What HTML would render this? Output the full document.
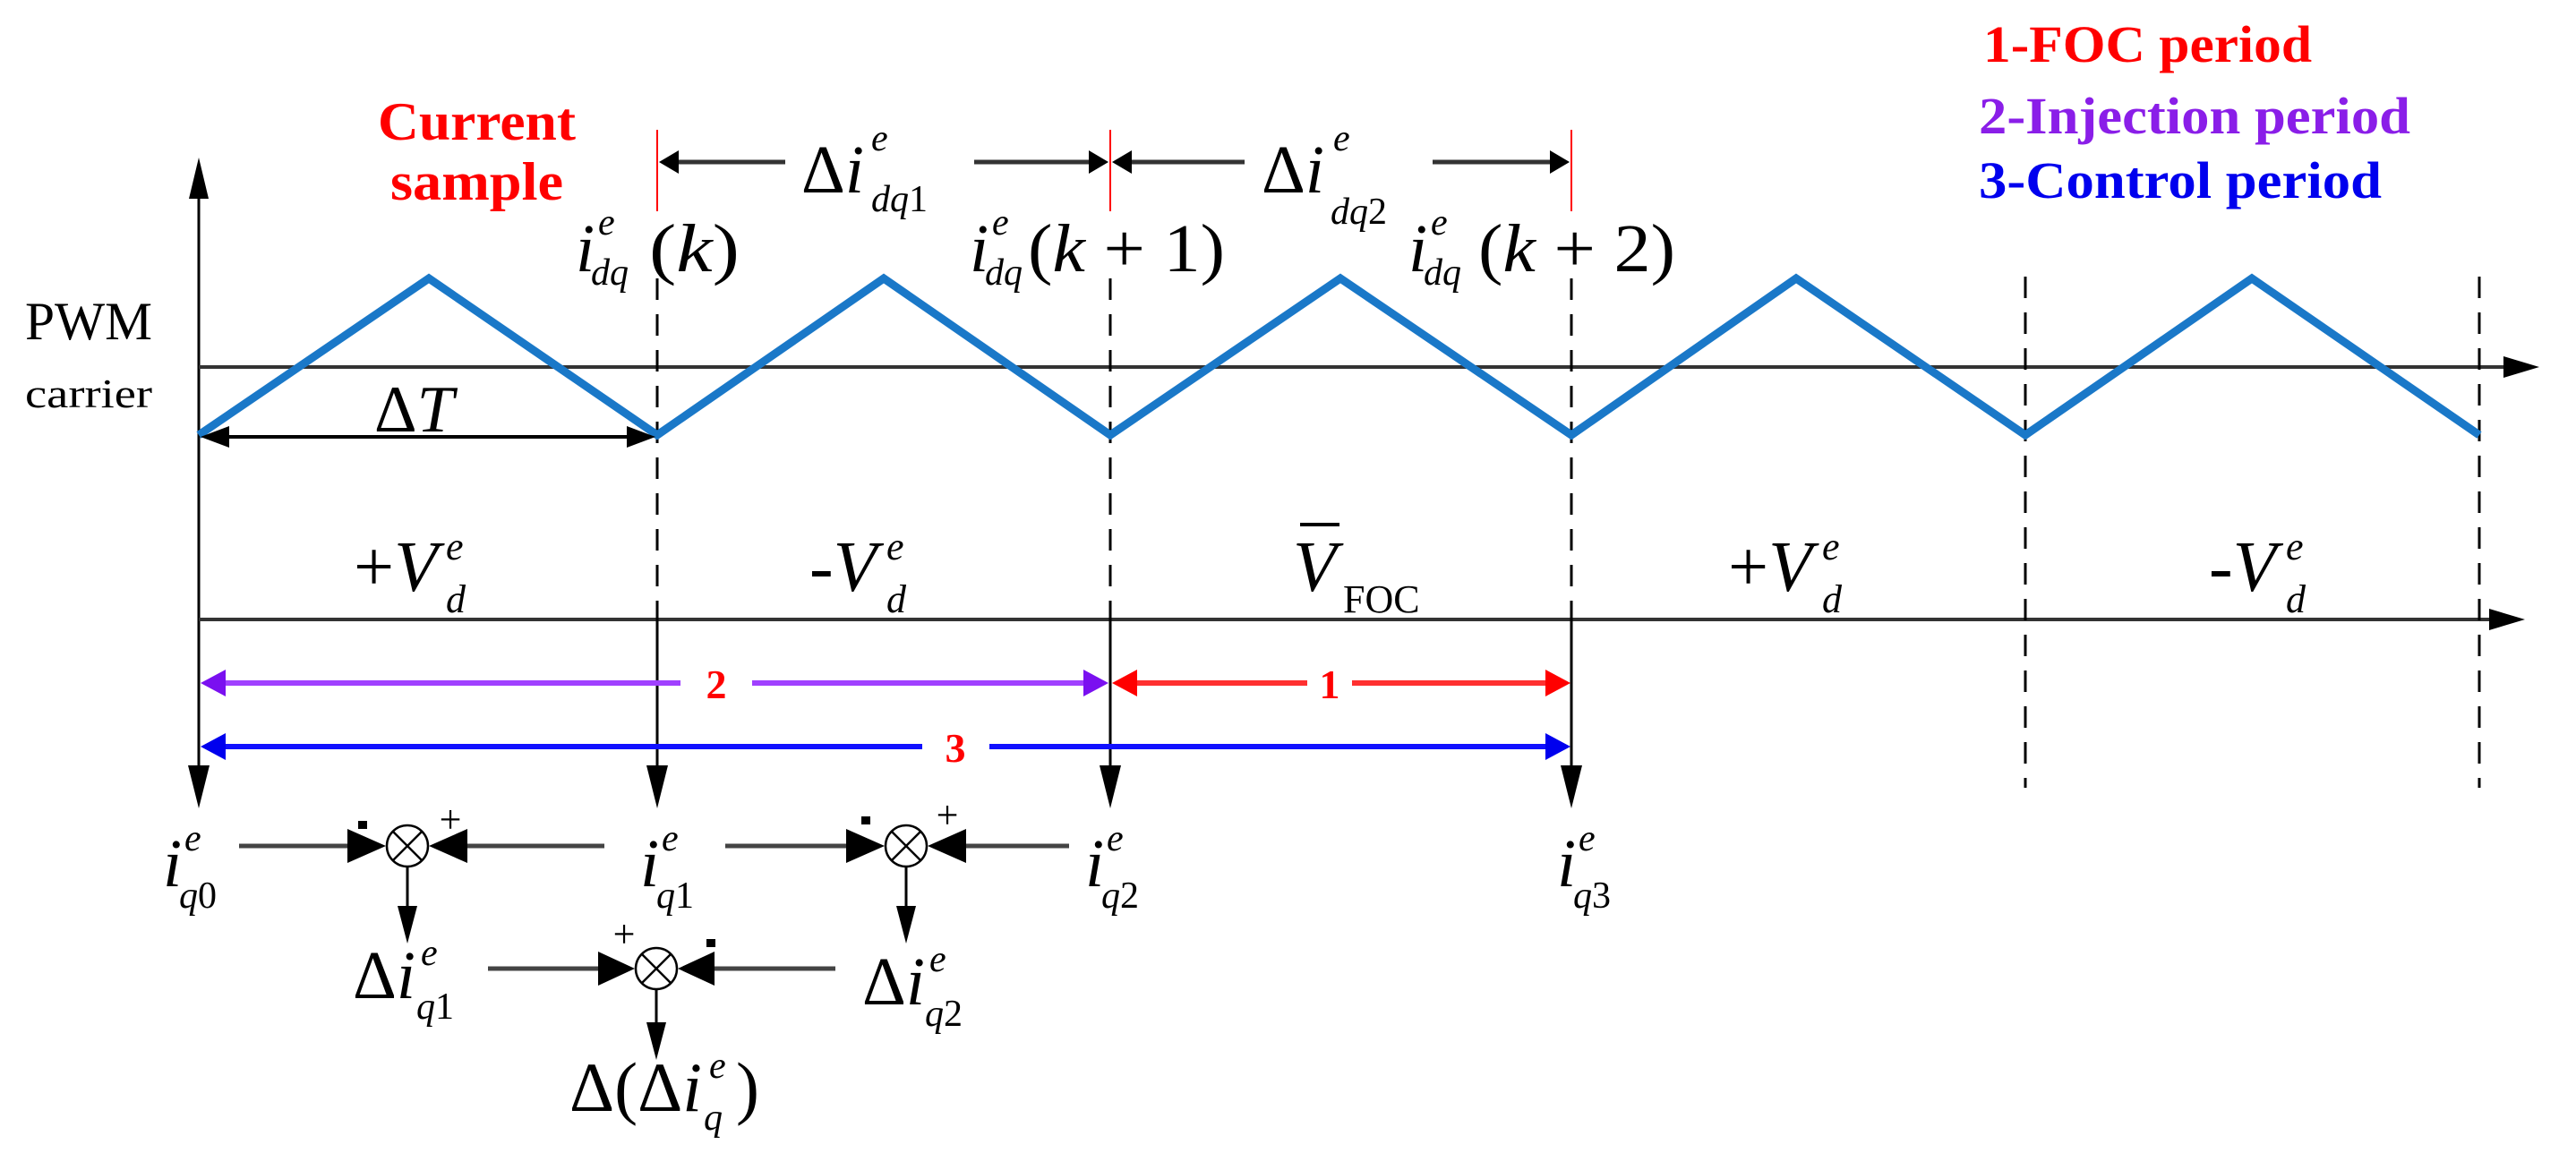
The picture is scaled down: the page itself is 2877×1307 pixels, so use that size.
<!DOCTYPE html>
<html><head><meta charset="utf-8"><style>
html,body{margin:0;padding:0;background:#fff;}
svg{display:block;}
text{font-family:"Liberation Serif",serif;}
.m{font-style:italic;font-family:"Liberation Serif","DejaVu Serif",serif;}
</style></head><body>
<svg width="2877" height="1307" viewBox="0 0 2877 1307" xmlns="http://www.w3.org/2000/svg">
<rect width="2877" height="1307" fill="#fff"/>

<!-- y axis -->
<line x1="222" y1="200" x2="222" y2="880" stroke="#000" stroke-width="3"/>
<polygon points="222,176 211,222 233,222" fill="#000"/>
<!-- carrier axis -->
<line x1="222" y1="410" x2="2800" y2="410" stroke="#333" stroke-width="4"/>
<polygon points="2836,410 2796,398 2796,422" fill="#000"/>
<!-- second axis -->
<line x1="222" y1="692" x2="2790" y2="692" stroke="#333" stroke-width="4"/>
<polygon points="2820,692 2780,680 2780,704" fill="#000"/>

<!-- dashed verticals -->
<g stroke="#000" stroke-width="3" stroke-dasharray="24,16">
<line x1="734" y1="311" x2="734" y2="692"/>
<line x1="1240" y1="311" x2="1240" y2="692"/>
<line x1="1755" y1="311" x2="1755" y2="692"/>
<line x1="2262" y1="309" x2="2262" y2="880"/>
<line x1="2769" y1="309" x2="2769" y2="880"/>
</g>
<g stroke="#000" stroke-width="3">
<line x1="734" y1="692" x2="734" y2="870"/>
<line x1="1240" y1="692" x2="1240" y2="870"/>
<line x1="1755" y1="692" x2="1755" y2="870"/>
</g>
<g fill="#000">
<polygon points="222,903 210,855 234,855"/>
<polygon points="734,903 722,855 746,855"/>
<polygon points="1240,903 1228,855 1252,855"/>
<polygon points="1755,903 1743,855 1767,855"/>
</g>

<!-- carrier -->
<polyline points="222,486 479,311 734,486 987,311 1240,486 1497,311 1755,486 2006,311 2262,486 2515,311 2769,486" fill="none" stroke="#1a78c8" stroke-width="9"/>

<!-- delta T arrow -->
<line x1="240" y1="488" x2="716" y2="488" stroke="#000" stroke-width="4"/>
<polygon points="224,488 256,476 256,500" fill="#000"/>
<polygon points="732,488 700,476 700,500" fill="#000"/>
<text x="418" y="482" font-size="74">Δ<tspan class="m">T</tspan></text>

<!-- PWM carrier -->
<text x="28" y="379" font-size="60" textLength="142" lengthAdjust="spacingAndGlyphs">PWM</text>
<text x="28" y="455" font-size="46" textLength="142" lengthAdjust="spacingAndGlyphs">carrier</text>

<!-- Current sample -->
<text x="422" y="156" font-size="60" font-weight="bold" fill="#f00" textLength="221" lengthAdjust="spacingAndGlyphs">Current</text>
<text x="436" y="223" font-size="60" font-weight="bold" fill="#f00" textLength="193" lengthAdjust="spacingAndGlyphs">sample</text>

<!-- Legend -->
<text x="2215" y="69" font-size="58" font-weight="bold" fill="#f00" textLength="367" lengthAdjust="spacingAndGlyphs">1-FOC period</text>
<text x="2210" y="149" font-size="58" font-weight="bold" fill="#8a1ee8" textLength="482" lengthAdjust="spacingAndGlyphs">2-Injection period</text>
<text x="2210" y="221" font-size="58" font-weight="bold" fill="#0000ee" textLength="450" lengthAdjust="spacingAndGlyphs">3-Control period</text>

<!-- red ticks -->
<g stroke="#f00" stroke-width="2">
<line x1="734" y1="145" x2="734" y2="236"/>
<line x1="1240" y1="145" x2="1240" y2="236"/>
<line x1="1755" y1="145" x2="1755" y2="236"/>
</g>
<g stroke="#333" stroke-width="5">
<line x1="750" y1="181" x2="877" y2="181"/>
<line x1="1088" y1="181" x2="1222" y2="181"/>
<line x1="1258" y1="181" x2="1390" y2="181"/>
<line x1="1600" y1="181" x2="1738" y2="181"/>
</g>
<g fill="#000">
<polygon points="736,181 758,168 758,194"/>
<polygon points="1238,181 1216,168 1216,194"/>
<polygon points="1242,181 1264,168 1264,194"/>
<polygon points="1753,181 1731,168 1731,194"/>
</g>
<text x="895" y="215" font-size="76">Δ<tspan class="m">i</tspan></text>
<text x="973" y="168" font-size="42" class="m">e</text>
<text x="973" y="236" font-size="42" class="m">dq<tspan font-style="normal">1</tspan></text>
<text x="1409" y="215" font-size="76">Δ<tspan class="m">i</tspan></text>
<text x="1489" y="168" font-size="42" class="m">e</text>
<text x="1486" y="250" font-size="42" class="m">dq<tspan font-style="normal">2</tspan></text>

<!-- idq(k) labels -->
<text x="643" y="303" font-size="76" class="m">i</text>
<text x="668" y="262" font-size="42" class="m">e</text>
<text x="660" y="318" font-size="42" class="m">dq</text>
<text x="725" y="303" font-size="76" textLength="101" lengthAdjust="spacingAndGlyphs">(<tspan class="m">k</tspan>)</text>

<text x="1083" y="303" font-size="76" class="m">i</text>
<text x="1108" y="262" font-size="42" class="m">e</text>
<text x="1100" y="318" font-size="42" class="m">dq</text>
<text x="1148" y="303" font-size="76" textLength="220" lengthAdjust="spacingAndGlyphs">(<tspan class="m">k</tspan> + 1)</text>

<text x="1573" y="303" font-size="76" class="m">i</text>
<text x="1598" y="262" font-size="42" class="m">e</text>
<text x="1590" y="318" font-size="42" class="m">dq</text>
<text x="1651" y="303" font-size="76" textLength="220" lengthAdjust="spacingAndGlyphs">(<tspan class="m">k</tspan> + 2)</text>

<!-- V labels -->
<text x="395" y="660" font-size="80">+<tspan class="m">V</tspan></text>
<text x="498" y="625" font-size="44" class="m">e</text>
<text x="498" y="684" font-size="44" class="m">d</text>
<text x="904" y="660" font-size="80">-<tspan class="m">V</tspan></text>
<text x="990" y="625" font-size="44" class="m">e</text>
<text x="990" y="684" font-size="44" class="m">d</text>
<text x="1444" y="660" font-size="80" class="m">V</text>
<line x1="1452" y1="586" x2="1496" y2="586" stroke="#000" stroke-width="4"/>
<text x="1500" y="684" font-size="44">FOC</text>
<text x="1930" y="660" font-size="80">+<tspan class="m">V</tspan></text>
<text x="2035" y="625" font-size="44" class="m">e</text>
<text x="2035" y="684" font-size="44" class="m">d</text>
<text x="2467" y="660" font-size="80">-<tspan class="m">V</tspan></text>
<text x="2553" y="625" font-size="44" class="m">e</text>
<text x="2553" y="684" font-size="44" class="m">d</text>

<!-- colored period arrows -->
<line x1="240" y1="763" x2="760" y2="763" stroke="#a040ff" stroke-width="6"/>
<line x1="840" y1="763" x2="1222" y2="763" stroke="#a040ff" stroke-width="6"/>
<polygon points="224,763 252,748 252,778" fill="#7a10f0"/>
<polygon points="1238,763 1210,748 1210,778" fill="#7a10f0"/>
<text x="800" y="780" font-size="46" font-weight="bold" fill="#f00" text-anchor="middle">2</text>
<line x1="1258" y1="763" x2="1460" y2="763" stroke="#ff3030" stroke-width="6"/>
<line x1="1510" y1="763" x2="1738" y2="763" stroke="#ff3030" stroke-width="6"/>
<polygon points="1242,763 1270,748 1270,778" fill="#f00"/>
<polygon points="1754,763 1726,748 1726,778" fill="#f00"/>
<text x="1485" y="780" font-size="46" font-weight="bold" fill="#f00" text-anchor="middle">1</text>
<line x1="240" y1="834" x2="1030" y2="834" stroke="#1010ff" stroke-width="6"/>
<line x1="1105" y1="834" x2="1738" y2="834" stroke="#1010ff" stroke-width="6"/>
<polygon points="224,834 252,819 252,849" fill="#0000ee"/>
<polygon points="1754,834 1726,819 1726,849" fill="#0000ee"/>
<text x="1067" y="851" font-size="46" font-weight="bold" fill="#f00" text-anchor="middle">3</text>

<!-- iq labels -->
<text x="182" y="990" font-size="76" class="m">i</text>
<text x="206" y="950" font-size="42" class="m">e</text>
<text x="200" y="1014" font-size="42"><tspan class="m">q</tspan>0</text>
<text x="715" y="990" font-size="76" class="m">i</text>
<text x="739" y="950" font-size="42" class="m">e</text>
<text x="733" y="1014" font-size="42"><tspan class="m">q</tspan>1</text>
<text x="1212" y="990" font-size="76" class="m">i</text>
<text x="1236" y="950" font-size="42" class="m">e</text>
<text x="1230" y="1014" font-size="42"><tspan class="m">q</tspan>2</text>
<text x="1739" y="990" font-size="76" class="m">i</text>
<text x="1763" y="950" font-size="42" class="m">e</text>
<text x="1757" y="1014" font-size="42"><tspan class="m">q</tspan>3</text>

<!-- junctions -->
<g stroke="#000" stroke-width="2.5" fill="#fff">
<circle cx="455" cy="945" r="23"/>
<circle cx="1012" cy="945" r="23"/>
<circle cx="733" cy="1082" r="23"/>
</g>
<g stroke="#000" stroke-width="2.5">
<line x1="439" y1="929" x2="471" y2="961"/><line x1="471" y1="929" x2="439" y2="961"/>
<line x1="996" y1="929" x2="1028" y2="961"/><line x1="1028" y1="929" x2="996" y2="961"/>
<line x1="717" y1="1066" x2="749" y2="1098"/><line x1="749" y1="1066" x2="717" y2="1098"/>
</g>
<g stroke="#444" stroke-width="5">
<line x1="267" y1="945" x2="400" y2="945"/>
<line x1="510" y1="945" x2="675" y2="945"/>
<line x1="810" y1="945" x2="958" y2="945"/>
<line x1="1066" y1="945" x2="1194" y2="945"/>
<line x1="545" y1="1082" x2="680" y2="1082"/>
<line x1="786" y1="1082" x2="933" y2="1082"/>
</g>
<g stroke="#000" stroke-width="3">
<line x1="455" y1="968" x2="455" y2="1020"/>
<line x1="1012" y1="968" x2="1012" y2="1020"/>
<line x1="733" y1="1105" x2="733" y2="1150"/>
</g>
<g fill="#000">
<polygon points="431,945 388,926 388,964"/>
<polygon points="479,945 522,926 522,964"/>
<polygon points="988,945 945,926 945,964"/>
<polygon points="1036,945 1079,926 1079,964"/>
<polygon points="709,1082 668,1063 668,1101"/>
<polygon points="757,1082 798,1063 798,1101"/>
<polygon points="455,1054 444,1012 466,1012"/>
<polygon points="1012,1054 1001,1012 1023,1012"/>
<polygon points="733,1184 722,1142 744,1142"/>
</g>
<rect x="400" y="917" width="10" height="9" fill="#000"/>
<text x="503" y="930" font-size="44" text-anchor="middle">+</text>
<rect x="962" y="912" width="10" height="9" fill="#000"/>
<text x="1058" y="925" font-size="44" text-anchor="middle">+</text>
<text x="697" y="1058" font-size="44" text-anchor="middle">+</text>
<rect x="789" y="1049" width="10" height="9" fill="#000"/>

<!-- delta iq labels -->
<text x="394" y="1115" font-size="76">Δ<tspan class="m">i</tspan></text>
<text x="470" y="1078" font-size="42" class="m">e</text>
<text x="465" y="1138" font-size="42"><tspan class="m">q</tspan>1</text>
<text x="963" y="1122" font-size="76">Δ<tspan class="m">i</tspan></text>
<text x="1038" y="1085" font-size="42" class="m">e</text>
<text x="1033" y="1146" font-size="42"><tspan class="m">q</tspan>2</text>

<text x="636" y="1241" font-size="78">Δ(Δ<tspan class="m">i</tspan></text>
<text x="792" y="1204" font-size="42" class="m">e</text>
<text x="786" y="1262" font-size="42" class="m">q</text>
<text x="822" y="1241" font-size="78">)</text>
</svg>
</body></html>
